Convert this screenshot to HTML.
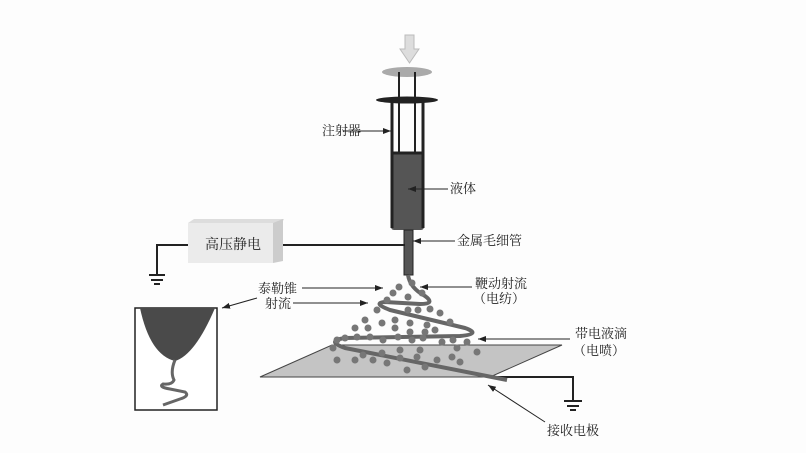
<!DOCTYPE html>
<html><head><meta charset="utf-8"><style>
html,body{margin:0;padding:0;background:#fff}
svg{display:block}
text{font-family:"Liberation Serif","Noto Serif CJK SC",serif;font-size:13px;fill:#222}
</style></head><body>
<svg width="806" height="453" viewBox="0 0 806 453" xmlns="http://www.w3.org/2000/svg">
<defs>
<marker id="a" markerWidth="8" markerHeight="6" refX="8" refY="3" orient="auto" markerUnits="userSpaceOnUse"><path d="M0,0L8,3L0,6z" fill="#222"/></marker>
</defs>
<rect width="806" height="453" fill="#fdfdfd"/>
<path d="M405,35h9v14h5l-9.5,14l-9.5,-14h5z" fill="#ddd" stroke="#bbb"/>
<ellipse cx="407" cy="72" rx="25" ry="5" fill="#aaa"/>
<line x1="399" y1="72" x2="399" y2="153" stroke="#222" stroke-width="2"/>
<line x1="415" y1="72" x2="415" y2="153" stroke="#222" stroke-width="2"/>
<rect x="391" y="153" width="33" height="77" rx="3" fill="#555"/>
<path d="M392,101V228M423,101V228" stroke="#222" stroke-width="3" fill="none"/>
<line x1="392" y1="153" x2="423" y2="153" stroke="#222" stroke-width="3"/>
<ellipse cx="407" cy="100" rx="31" ry="3.5" fill="#222"/>
<rect x="404" y="230" width="9" height="45" fill="#555" stroke="#222"/>
<path d="M188,223l6,-4h90l-2,4z" fill="#ddd"/>
<rect x="188" y="223" width="85" height="40" fill="#ebebeb"/>
<path d="M273,223l10,-4v42l-10,2z" fill="#ccc"/>
<text x="205" y="249" style="font-size:14px">高压静电</text>
<path d="M283,245H405M188,245H157V275" stroke="#222" stroke-width="2" fill="none"/>
<path d="M149,275h16M151,280h12M154,284h6" stroke="#222" stroke-width="2"/>
<path d="M260,377L332,345H562L490,377z" fill="#c4c4c4" stroke="#444"/>
<path d="M490,377H573V401" stroke="#222" stroke-width="2" fill="none"/>
<path d="M564,401h18M567,406h12M570,410h6" stroke="#222" stroke-width="2"/>
<path d="M408,275Q410,288 425,296Q436,304 420,304L385,302Q372,303 390,310L465,328Q482,334 460,336L345,338Q325,341 345,348L507,380" stroke="#666" stroke-width="4" fill="none" stroke-linejoin="round"/>
<g fill="#777">
<circle cx="399" cy="287" r="3.5"/><circle cx="412" cy="283" r="3.5"/><circle cx="393" cy="293" r="3.5"/><circle cx="408" cy="297" r="3.5"/><circle cx="422" cy="293" r="3.5"/><circle cx="387" cy="300" r="3.5"/><circle cx="377" cy="310" r="3.5"/><circle cx="408" cy="310" r="3.5"/><circle cx="418" cy="310" r="3.5"/><circle cx="430" cy="309" r="3.5"/><circle cx="440" cy="313" r="3.5"/><circle cx="365" cy="320" r="3.5"/><circle cx="382" cy="323" r="3.5"/><circle cx="395" cy="320" r="3.5"/><circle cx="410" cy="323" r="3.5"/><circle cx="427" cy="325" r="3.5"/><circle cx="450" cy="322" r="3.5"/><circle cx="355" cy="328" r="3.5"/><circle cx="368" cy="328" r="3.5"/><circle cx="395" cy="328" r="3.5"/><circle cx="410" cy="332" r="3.5"/><circle cx="425" cy="332" r="3.5"/><circle cx="435" cy="330" r="3.5"/><circle cx="357" cy="337" r="3.5"/><circle cx="370" cy="337" r="3.5"/><circle cx="383" cy="340" r="3.5"/><circle cx="398" cy="337" r="3.5"/><circle cx="412" cy="340" r="3.5"/><circle cx="423" cy="338" r="3.5"/><circle cx="442" cy="342" r="3.5"/><circle cx="453" cy="340" r="3.5"/><circle cx="467" cy="342" r="3.5"/><circle cx="337" cy="340" r="3.5"/><circle cx="345" cy="338" r="3.5"/><circle cx="333" cy="348" r="3.5"/><circle cx="363" cy="355" r="3.5"/><circle cx="382" cy="353" r="3.5"/><circle cx="400" cy="350" r="3.5"/><circle cx="420" cy="350" r="3.5"/><circle cx="457" cy="348" r="3.5"/><circle cx="477" cy="352" r="3.5"/><circle cx="337" cy="360" r="3.5"/><circle cx="355" cy="360" r="3.5"/><circle cx="373" cy="360" r="3.5"/><circle cx="387" cy="363" r="3.5"/><circle cx="400" cy="358" r="3.5"/><circle cx="417" cy="357" r="3.5"/><circle cx="437" cy="360" r="3.5"/><circle cx="452" cy="357" r="3.5"/><circle cx="425" cy="367" r="3.5"/><circle cx="407" cy="370" r="3.5"/><circle cx="460" cy="362" r="3.5"/>
</g>
<rect x="135" y="308" width="82" height="102" fill="#fff" stroke="#222" stroke-width="1.5"/>
<path d="M140,308H215Q195,355 175,361Q150,355 140,308z" fill="#4a4a4a"/>
<path d="M175,360Q170,372 174,380Q172,385 163,384Q158,387 170,389L185,392Q190,396 180,399L163,405" stroke="#666" stroke-width="3" fill="none"/>
<text x="322" y="135">注射器</text><line x1="343" y1="131" x2="391" y2="131" stroke="#222" marker-end="url(#a)"/>
<text x="450" y="193">液体</text><line x1="448" y1="189" x2="408" y2="189" stroke="#222" marker-end="url(#a)"/>
<text x="457" y="245">金属毛细管</text><line x1="455" y1="241" x2="413" y2="241" stroke="#222" marker-end="url(#a)"/>
<text x="258" y="293">泰勒锥</text><line x1="302" y1="288" x2="383" y2="288" stroke="#222" marker-end="url(#a)"/>
<text x="265" y="308">射流</text><line x1="293" y1="303" x2="368" y2="303" stroke="#222" marker-end="url(#a)"/>
<line x1="257" y1="298" x2="222" y2="308" stroke="#222" marker-end="url(#a)"/>
<text x="475" y="288">鞭动射流</text><text x="473" y="303">（电纺）</text>
<line x1="472" y1="287" x2="420" y2="287" stroke="#222" marker-end="url(#a)"/>
<text x="575" y="338">带电液滴</text><text x="573" y="355">（电喷）</text>
<line x1="570" y1="339" x2="478" y2="339" stroke="#222" marker-end="url(#a)"/>
<text x="547" y="435">接收电极</text><line x1="545" y1="422" x2="488" y2="385" stroke="#222" marker-end="url(#a)"/>
</svg>
</body></html>
